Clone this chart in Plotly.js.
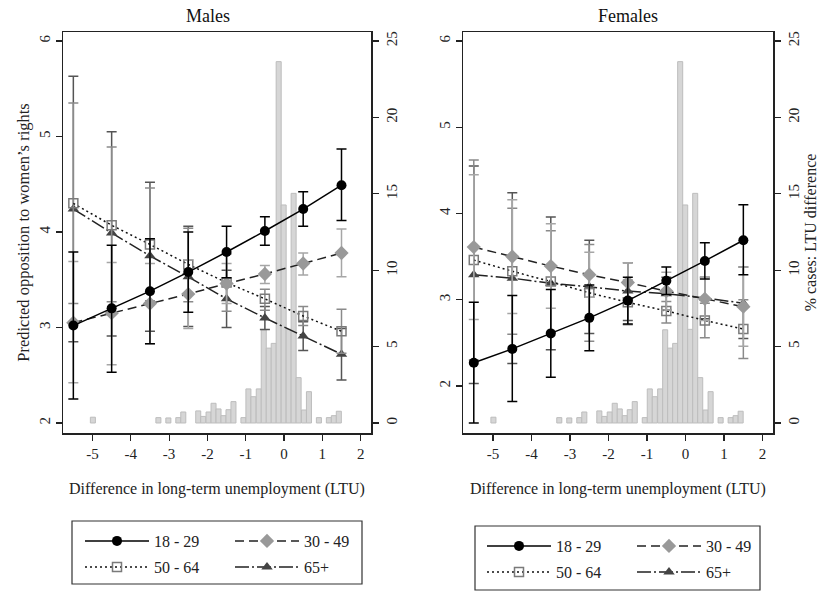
<!DOCTYPE html>
<html><head><meta charset="utf-8">
<script src="https://cdn.plot.ly/plotly-3.0.1.min.js"></script>
<style>html,body{margin:0;padding:0;background:#fff}</style>
</head><body><div id="chart" style="width:829px;height:593px"></div>
<script>
// ---------- data ----------
const xPoints = [-5.5, -4.5, -3.5, -2.5, -1.5, -0.5, 0.5, 1.5];
const groups = ['18 - 29', '30 - 49', '50 - 64', '65+'];

// Males: predicted values and 95% CI bounds
const m1829   = [3.02, 3.20, 3.38, 3.58, 3.79, 4.01, 4.24, 4.49];
const m1829Lo = [2.25, 2.53, 2.83, 3.16, 3.52, 3.86, 4.06, 4.12];
const m1829Hi = [3.79, 3.86, 3.93, 4.00, 4.06, 4.16, 4.42, 4.87];
const m3049   = [3.05, 3.15, 3.25, 3.35, 3.46, 3.56, 3.67, 3.78];
const m3049Lo = [2.42, 2.61, 2.83, 2.99, 3.25, 3.46, 3.55, 3.53];
const m3049Hi = [3.69, 3.68, 3.67, 3.71, 3.67, 3.65, 3.78, 4.03];
const m5064   = [4.30, 4.07, 3.87, 3.66, 3.47, 3.30, 3.12, 2.96];
const m5064Lo = [3.25, 3.27, 3.28, 3.27, 3.17, 3.18, 3.02, 2.73];
const m5064Hi = [5.35, 4.89, 4.46, 4.04, 3.77, 3.40, 3.22, 3.19];
const m65     = [4.24, 3.99, 3.75, 3.53, 3.30, 3.10, 2.91, 2.72];
const m65Lo   = [2.85, 2.91, 2.96, 3.01, 3.00, 2.98, 2.76, 2.45];
const m65Hi   = [5.63, 5.05, 4.52, 4.06, 3.60, 3.22, 3.06, 2.99];

// Females
const f1829   = [2.27, 2.43, 2.61, 2.79, 2.99, 3.22, 3.45, 3.69];
const f1829Lo = [1.57, 1.82, 2.10, 2.41, 2.72, 3.06, 3.24, 3.29];
const f1829Hi = [2.97, 3.05, 3.12, 3.17, 3.26, 3.38, 3.66, 4.10];
const f3049   = [3.61, 3.50, 3.39, 3.29, 3.20, 3.10, 3.01, 2.92];
const f3049Lo = [2.77, 2.84, 2.90, 3.03, 2.97, 2.88, 2.76, 2.46];
const f3049Hi = [4.45, 4.16, 3.88, 3.55, 3.43, 3.32, 3.26, 3.38];
const f5064   = [3.46, 3.33, 3.21, 3.08, 2.97, 2.87, 2.76, 2.66];
const f5064Lo = [2.30, 2.60, 2.62, 2.52, 2.71, 2.73, 2.56, 2.32];
const f5064Hi = [4.62, 4.06, 3.80, 3.64, 3.23, 2.98, 2.96, 3.00];
const f65     = [3.29, 3.25, 3.19, 3.15, 3.10, 3.07, 3.02, 2.96];
const f65Lo   = [2.03, 2.26, 2.42, 2.61, 2.76, 2.88, 2.78, 2.55];
const f65Hi   = [4.55, 4.24, 3.96, 3.69, 3.43, 3.26, 3.26, 3.38];

// Histogram of LTU difference (% of cases), bin centres
const histX   = [-4.99, -3.28, -3.02, -2.76, -2.63, -2.24, -2.11, -1.97, -1.84, -1.71, -1.58, -1.45, -1.32,
                 -1.06, -0.93, -0.80, -0.66, -0.53, -0.40, -0.27, -0.14, -0.01, 0.12, 0.25, 0.38, 0.52, 0.65,
                 0.91, 1.17, 1.30, 1.43];
const histPct = [0.38, 0.35, 0.33, 0.35, 0.72, 0.79, 0.43, 0.72, 1.29, 0.92, 0.48, 0.87, 1.40,
                 0.35, 2.23, 1.72, 2.23, 6.10, 4.90, 5.21, 23.65, 14.27, 6.13, 15.03, 2.97, 0.85, 2.05,
                 0.35, 0.35, 0.48, 0.77];
const binWidth = 0.131;

const xTicks = [-5, -4, -3, -2, -1, 0, 1, 2];
const predTicks = [2, 3, 4, 5, 6];
const pctTicks = [0, 5, 10, 15, 20, 25];

// ---------- styling ----------
const FONT = 'Liberation Serif, Times New Roman, serif';
const styles = [
  {marker: {symbol: 'circle', size: 10, color: '#000'}, line: {color: '#000', width: 1.5, dash: 'solid'}, err: '#000'},
  {marker: {symbol: 'diamond', size: 11, color: '#999'}, line: {color: '#222', width: 1.5, dash: '9px,5px'}, err: '#a6a6a6'},
  {marker: {symbol: 'square-open', size: 9, color: '#7a7a7a', line: {width: 1.5}}, line: {color: '#111', width: 1.5, dash: '2px,3px'}, err: '#8a8a8a'},
  {marker: {symbol: 'triangle-up', size: 10, color: '#444'}, line: {color: '#222', width: 1.5, dash: '14px,3px,2px,3px'}, err: '#555'}
];

const males = [[m1829, m1829Lo, m1829Hi], [m3049, m3049Lo, m3049Hi], [m5064, m5064Lo, m5064Hi], [m65, m65Lo, m65Hi]];
const females = [[f1829, f1829Lo, f1829Hi], [f3049, f3049Lo, f3049Hi], [f5064, f5064Lo, f5064Hi], [f65, f65Lo, f65Hi]];

const traces = [];
function histTrace(xa, ya) {
  return {type: 'bar', x: histX, y: histPct, width: binWidth, xaxis: xa, yaxis: ya,
    marker: {color: '#d6d6d6', line: {color: '#bdbdbd', width: 1}}, showlegend: false, hoverinfo: 'skip'};
}
traces.push(histTrace('x', 'y'));
traces.push(histTrace('x2', 'y3'));

function addSeries(data, xa, ya, legOffset) {
  [3, 2, 1, 0].forEach(i => {
    const [mid, lo, hi] = data[i];
    const st = styles[i];
    traces.push({
      type: 'scatter', mode: 'lines+markers', name: groups[i],
      x: xPoints, y: mid, xaxis: xa, yaxis: ya,
      line: st.line, marker: st.marker,
      error_y: {type: 'data', symmetric: false,
        array: hi.map((h, k) => h - mid[k]), arrayminus: mid.map((m, k) => m - lo[k]),
        color: st.err, thickness: 1.5, width: 5},
      legend: 'legend' + (legOffset + i === 0 ? '' : (legOffset + i + 1))
    });
  });
}
addSeries(males, 'x', 'y2', 0);
addSeries(females, 'x2', 'y4', 4);

const W = 829, H = 593;
const px = v => v / W, py = v => 1 - v / H;

const axisCommon = {showgrid: false, zeroline: false, showline: true, linecolor: '#222', linewidth: 1.5,
  ticks: 'outside', ticklen: 6, tickwidth: 1.2, tickcolor: '#222',
  tickfont: {family: FONT, size: 15, color: '#222'}, automargin: false, fixedrange: true};

const yDom = [py(433), py(32)];
const xTitle = {text: 'Difference in long-term unemployment (LTU)', font: {family: FONT, size: 16, color: '#222'}, standoff: 22};

const layout = {
  width: W, height: H, margin: {l: 0, r: 0, t: 0, b: 0},
  paper_bgcolor: '#fff', plot_bgcolor: '#fff', bargap: 0,
  font: {family: FONT, color: '#222'},
  xaxis: Object.assign({}, axisCommon, {domain: [px(63), px(371)], range: [-5.77, 2.27], tickvals: xTicks,
    ticktext: xTicks.map(String), mirror: true, anchor: 'y', title: xTitle}),
  yaxis: Object.assign({}, axisCommon, {domain: yDom, range: [-0.655, 25.59], side: 'right', anchor: 'x',
    tickvals: pctTicks, tickangle: -90}),
  yaxis2: Object.assign({}, axisCommon, {domain: yDom, range: [1.895, 6.094], side: 'left', overlaying: 'y', anchor: 'x',
    tickvals: predTicks, tickangle: -90,
    title: {text: 'Predicted opposition to women\u2019s rights', font: {family: FONT, size: 16.5, color: '#222'}, standoff: 2}}),
  xaxis2: Object.assign({}, axisCommon, {domain: [px(463), px(773)], range: [-5.78, 2.27], tickvals: xTicks,
    ticktext: xTicks.map(String), mirror: true, anchor: 'y3', title: xTitle}),
  yaxis3: Object.assign({}, axisCommon, {domain: yDom, range: [-0.655, 25.59], side: 'right', anchor: 'x2',
    tickvals: pctTicks, tickangle: -90,
    title: {text: '% cases: LTU difference', font: {family: FONT, size: 16, color: '#222'}, standoff: 4}}),
  yaxis4: Object.assign({}, axisCommon, {domain: yDom, range: [1.455, 6.104], side: 'left', overlaying: 'y3', anchor: 'x2',
    tickvals: predTicks, tickangle: -90}),
  annotations: [
    {text: 'Males', x: px(208), y: py(16), xref: 'paper', yref: 'paper', xanchor: 'center', yanchor: 'middle', showarrow: false, font: {family: FONT, size: 18, color: '#111'}},
    {text: 'Females', x: px(628), y: py(16), xref: 'paper', yref: 'paper', xanchor: 'center', yanchor: 'middle', showarrow: false, font: {family: FONT, size: 18, color: '#111'}}
  ],
  shapes: [
    {type: 'rect', xref: 'paper', yref: 'paper', x0: px(72), x1: px(362), y0: py(584), y1: py(521), line: {color: '#333', width: 1.2}},
    {type: 'rect', xref: 'paper', yref: 'paper', x0: px(475), x1: px(760), y0: py(590), y1: py(526), line: {color: '#333', width: 1.2}}
  ]
};

const legPos = [
  [80, 541], [230, 541], [80, 567], [230, 567],
  [482, 546], [632, 546], [482, 572], [632, 572]
];
legPos.forEach((p, i) => {
  const key = 'legend' + (i === 0 ? '' : (i + 1));
  layout[key] = {x: px(p[0]), y: py(p[1]), xanchor: 'left', yanchor: 'middle', xref: 'paper', yref: 'paper',
    bgcolor: 'rgba(0,0,0,0)', borderwidth: 0, itemwidth: 64,
    font: {family: FONT, size: 16, color: '#222'}, itemclick: false, itemdoubleclick: false};
});

Plotly.newPlot('chart', traces, layout, {displayModeBar: false, staticPlot: true});
</script></body></html>
